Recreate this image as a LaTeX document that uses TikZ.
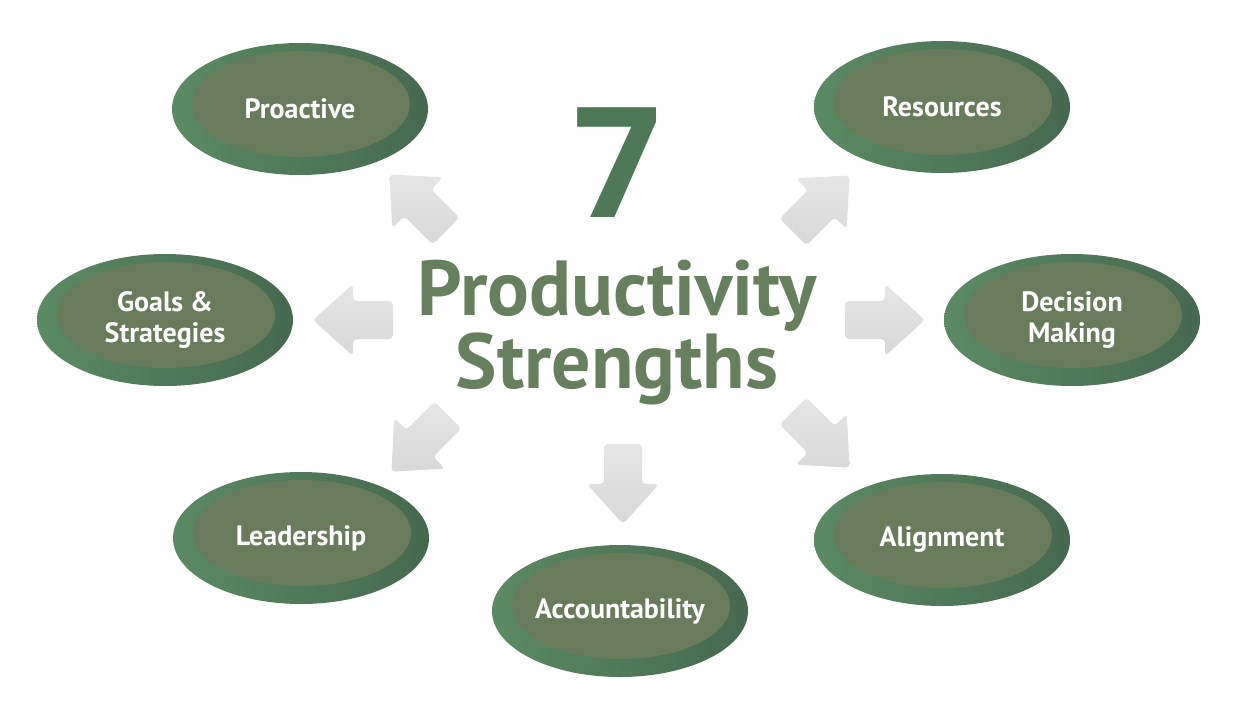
\documentclass[tikz,border=0pt]{standalone}
\usepackage{fontspec}
\setmainfont{PT Sans}
\newfontfamily\sevenfont{Open Sans}
\usetikzlibrary{shapes.geometric,calc}
\definecolor{outL}{HTML}{5A8B62}
\definecolor{outR}{HTML}{45694F}
\definecolor{inner}{HTML}{687C5C}
\definecolor{title}{HTML}{667F5C}
\definecolor{seven}{HTML}{4E7957}
\definecolor{arrL}{HTML}{E6E6E6}
\definecolor{arrD}{HTML}{D8D8D8}
\tikzset{
  outer/.style={ellipse, minimum width=256pt, minimum height=132pt, inner sep=0pt,
    left color=outL, right color=outR, draw=none},
  innerell/.style={fill=inner},
  lbl/.style={text=white, font=\fontsize{28}{31}\selectfont\bfseries, align=center},
  titletext/.style={text=title, font=\fontsize{78}{78}\selectfont\bfseries, anchor=base, inner sep=0pt},
  blockarrow/.style={top color=arrL, bottom color=arrD, draw=none, rounded corners=4pt},
}
\newcommand{\strength}[4]{%
  \node[outer] (#1) at (#2,#3) {};
  \fill[innerell] ($(#1.center)+(1,-5)$) ellipse [x radius=109pt, y radius=53pt];
  \node[lbl] (#1-t) at (#1.center) {#4};
}
\newcommand{\barrow}[4]{%
  \begin{scope}[shift={(#2,#3)}, rotate=#4]
    \path[blockarrow] (0,-19) -- (40,-19) -- (40,-36) -- (80,0) -- (40,36) -- (40,19) -- (0,19) -- cycle;
    \coordinate (#1) at (80,0);
  \end{scope}
}
\begin{document}
\begin{tikzpicture}[x=1pt,y=-1pt]
\useasboundingbox[fill=white] (0,0) rectangle (1245,718);
% title
\node[text=seven, font=\fontsize{154}{154}\sevenfont\bfseries, anchor=base] (seven) at (617,217) {7};
\node[titletext, text depth=0pt] (prod) at (617,315) {Productivity};
\node[titletext, text height=40pt] (str) at (617,388) {Strengths};
% arrows
\barrow{aUL}{446}{231}{135}
\barrow{aUR}{793}{232}{45}
\barrow{aL}{393}{320}{180}
\barrow{aR}{845}{320}{0}
\barrow{aDL}{448}{415}{-135}
\barrow{aD}{623}{444}{-90}
\barrow{aDR}{793}{411}{-45}
% ellipses
\strength{pro}{300}{109}{Proactive}
\strength{res}{942}{107}{Resources}
\strength{goa}{165}{320}{Goals \&\\Strategies}
\strength{dec}{1072}{320}{Decision\\Making}
\strength{lea}{301}{538}{Leadership}
\strength{ali}{942}{540}{Alignment}
\strength{acc}{620}{611}{Accountability}
\end{tikzpicture}
\end{document}
